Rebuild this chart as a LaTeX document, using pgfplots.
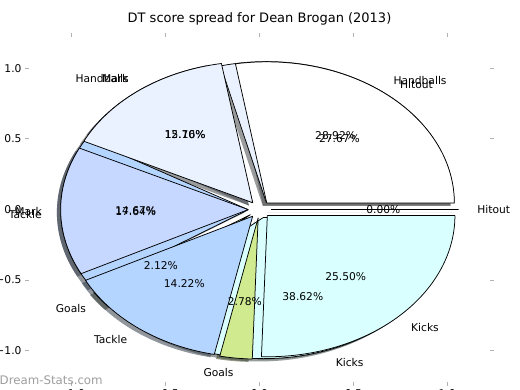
\documentclass[border=0pt]{standalone}
\usepackage{pgfplots}
\pgfplotsset{compat=1.18}
\usepackage{fontspec}
\setmainfont{DejaVu Sans}
\definecolor{cHit}{HTML}{FFFFFF}
\definecolor{cHb}{HTML}{EAF2FF}
\definecolor{cMk}{HTML}{C6D8FF}
\definecolor{cTk}{HTML}{B4D5FF}
\definecolor{cGl}{HTML}{CFEA8F}
\definecolor{cKk}{HTML}{D9FFFF}
% season values (percent of DT score)
\newcommand\pieA{27.67/cHit/Hitout, 15.16/cHb/Handballs, 14.67/cMk/Mark, 14.22/cTk/Tackle, 2.78/cGl/Goals, 25.50/cKk/Kicks}
\newcommand\pieB{0.00/cHit/Hitout, 28.92/cHb/Handballs, 12.70/cMk/Mark, 17.64/cTk/Tackle, 2.12/cGl/Goals, 38.62/cKk/Kicks}
\tikzset{pielab/.style={font=\fontsize{10.7}{12}\selectfont, inner sep=0pt}}
\newcommand\wedgeplot[3]{%
  \pgfmathsetmacro\dmin{\sa-3}\pgfmathsetmacro\dmax{\ea+3}%
  \pgfmathsetmacro\lo{\sa-2.5}\pgfmathsetmacro\hi{\ea+2.5}%
  \edef\tmp{\noexpand\addplot[#3, domain=\dmin:\dmax, samples=160, line join=round]
    ({#1+(((x<\lo)||(x>\hi)) ? 0 : cos(max(\sa,min(\ea,x))))},
     {#2+(((x<\lo)||(x>\hi)) ? 0 : sin(max(\sa,min(\ea,x))))});}%
  \tmp
}
\newcommand\piepass[2]{%
  \gdef\cum{0}%
  \foreach \v/\col/\lab in #2 {%
    \pgfmathsetmacro\sa{\cum*3.6}%
    \pgfmathsetmacro\ea{(\cum+\v)*3.6}%
    \pgfmathsetmacro\ma{(\sa+\ea)/2}%
    \pgfmathsetmacro\dx{0.06*cos(\ma)}%
    \pgfmathsetmacro\dy{0.06*sin(\ma)}%
    \pgfmathsetmacro\newcum{\cum+\v}%
    \xdef\cum{\newcum}%
    \ifcase#1\relax
      \pgfmathsetmacro\sx{\dx-0.02}\pgfmathsetmacro\sy{\dy-0.02}%
      \wedgeplot{\sx}{\sy}{draw=none, fill=\col!30!black, fill opacity=0.55}%
    \or
      \wedgeplot{\dx}{\dy}{draw=black, line width=0.75pt, fill=\col}%
    \or
      \pgfmathsetmacro\lx{1.16*cos(\ma)}\pgfmathsetmacro\ly{1.16*sin(\ma)}%
      \pgfmathsetmacro\px{0.66*cos(\ma)}\pgfmathsetmacro\py{0.66*sin(\ma)}%
      \pgfmathparse{cos(\ma)>0 ? 1 : 0}%
      \ifdim\pgfmathresult pt>0.5pt \def\anch{west}\else\def\anch{east}\fi
      \edef\tmp{\noexpand\node[pielab, anchor=\anch] at (axis cs:\lx,\ly) {\lab};
        \noexpand\node[pielab] at (axis cs:\px,\py) {\v\noexpand\%};}%
      \tmp
    \fi
  }%
}
\begin{document}
\begin{tikzpicture}
\useasboundingbox (0,0) rectangle (520pt,390pt);
\begin{axis}[
  at={(25pt,4pt)}, anchor=south west,
  scale only axis, width=469pt, height=353pt,
  xmin=-1.25, xmax=1.25, ymin=-1.25, ymax=1.25,
  axis line style={draw=none},
  xtick={-1,-0.5,0,0.5,1}, ytick={-1,-0.5,0,0.5,1},
  xticklabels={−1.0,−0.5,0.0,0.5,1.0},
  yticklabels={−1.0,−0.5,0.0,0.5,1.0},
  tick style={draw=black!30, line width=0.8pt},
  major tick length=4pt, tick align=inside,
  ticklabel style={font=\fontsize{10.7}{12}\selectfont},
  xticklabel style={yshift=0pt},
  title={DT score spread for Dean Brogan (2013)},
  title style={at={(0.5,1)}, anchor=base, yshift=4pt, inner sep=0pt, font=\fontsize{13}{15}\selectfont},
  clip=false,
]
\piepass{0}{\pieB}
\piepass{0}{\pieA}
\piepass{1}{\pieB}
\piepass{1}{\pieA}
\piepass{2}{\pieB}
\piepass{2}{\pieA}
\end{axis}
\node[anchor=base west, inner sep=0pt, text=black!38, font=\fontsize{11.8}{14}\selectfont] at (-0.5pt,5pt) {Dream-Stats.com};
\end{tikzpicture}
\end{document}
